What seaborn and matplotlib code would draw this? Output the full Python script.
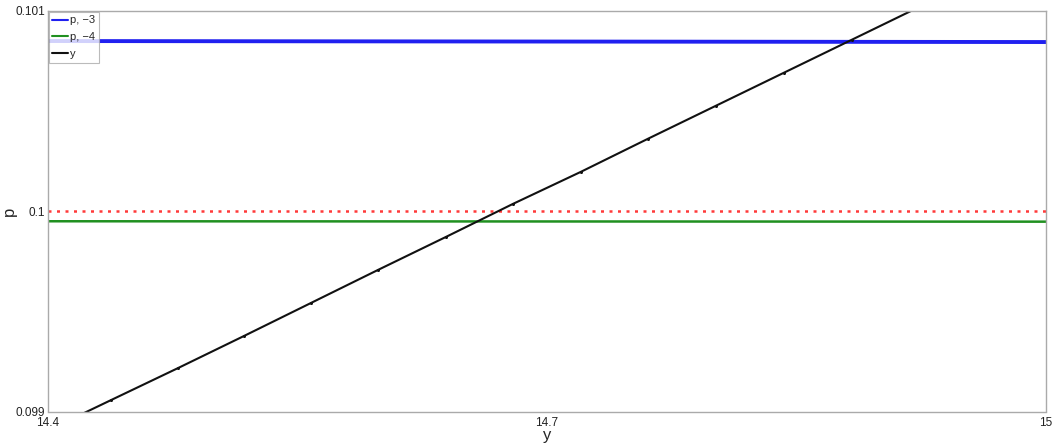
import numpy as np
import pandas as pd
import matplotlib
matplotlib.use("Agg")
import matplotlib.pyplot as plt
import seaborn as sns

# Data
x_range = [14.4, 15.0]
p3_vals = [0.10085, 0.100845]
p4_vals = [0.09995, 0.099948]
ref_level = 0.1

y_x = [14.3995, 14.4379, 14.4782, 14.5178, 14.5581, 14.5984, 14.6393,
       14.6796, 14.7204, 14.7607, 14.8016, 14.8425, 14.8834, 14.925]
y_vals = [0.098904, 0.099057, 0.099217, 0.099377, 0.099542, 0.099707, 0.099872,
          0.100037, 0.100197, 0.100362, 0.100527, 0.100692, 0.100857, 0.101025]

x_ticks = [14.4, 14.7, 15.0]
x_ticklabels = ["14.4", "14.7", "15"]
y_ticks = [0.099, 0.1, 0.101]
y_ticklabels = ["0.099", "0.1", "0.101"]

sns.set_style("white")
plt.rcParams['font.family'] = ['Liberation Sans', 'DejaVu Sans']

fig = plt.figure(figsize=(10.56, 4.44), dpi=100)
ax = fig.add_axes([48/1056, (444-411.5)/444, (1046-48)/1056, (411.5-11)/444])

df3 = pd.DataFrame({"x": x_range, "v": p3_vals})
df4 = pd.DataFrame({"x": x_range, "v": p4_vals})
dfy = pd.DataFrame({"x": y_x, "v": y_vals})

sns.lineplot(data=df3, x="x", y="v", ax=ax, color="#2020f0", linewidth=2.8, label="p, \u22123")
sns.lineplot(data=df4, x="x", y="v", ax=ax, color="#209020", linewidth=1.8, label="p, \u22124")
sns.lineplot(data=dfy, x="x", y="v", ax=ax, color="#111111", linewidth=1.5, label="y",
             marker="o", markersize=2.2, markeredgewidth=0)
ax.axhline(ref_level, color="#ff3a3a", linestyle=(0, (1.2, 2.2)), linewidth=1.8, zorder=1)

ax.set_xlim(14.4, 15.0)
ax.set_ylim(0.099, 0.101)
ax.set_xticks(x_ticks)
ax.set_xticklabels(x_ticklabels)
ax.set_yticks(y_ticks)
ax.set_yticklabels(y_ticklabels)
ax.tick_params(axis="x", direction="in", length=5, width=0.8, color="#aaaaaa",
               labelsize=8.5, pad=4, labelcolor="#222222")
ax.tick_params(axis="y", direction="in", length=0, labelsize=8.5, pad=2, labelcolor="#222222")
for s in ax.spines.values():
    s.set_color("#aaaaaa")
    s.set_linewidth(1.0)

ax.set_xlabel("y", fontsize=12)
ax.set_ylabel("p", fontsize=12)
ax.xaxis.set_label_coords((547 - 48) / 998, -(428 - 411.5) / 400.5)
ax.yaxis.set_label_coords((17 - 48) / 998, 0.5)

leg = ax.legend(loc="upper left", fontsize=8, frameon=True, fancybox=False,
                handlelength=1.4, handletextpad=0.2, borderpad=0.3,
                labelspacing=0.62, borderaxespad=0.1)
leg.get_frame().set_edgecolor("#aaaaaa")
leg.get_frame().set_linewidth(0.8)
for h in leg.get_lines():
    h.set_linewidth(1.5)
    h.set_marker("")

fig.savefig("out.png", dpi=100)
